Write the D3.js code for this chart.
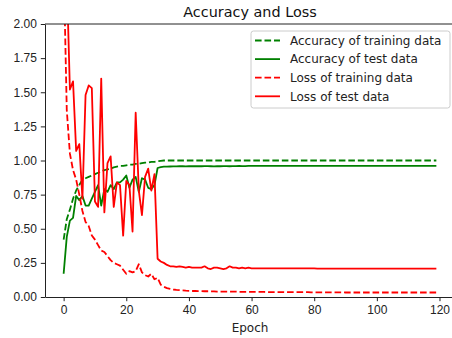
<!DOCTYPE html>
<html>
<head>
<meta charset="utf-8">
<script src="https://cdn.jsdelivr.net/npm/d3@7"></script>
<style>
    body { margin: 0; background: white; }
    svg { font-family: "DejaVu Sans", sans-serif; }
</style>
</head>
<body>
<svg id="chart"></svg>
<script>
// epoch 0 ~ 119
const epochs = d3.range(120);

const accTrain = [
    0.42, 0.57, 0.64, 0.72, 0.78, 0.82, 0.86, 0.87, 0.88, 0.89,
    0.90, 0.91, 0.92, 0.93, 0.935, 0.94, 0.95, 0.955, 0.96, 0.96,
    0.965, 0.97, 0.97, 0.975, 0.975, 0.98, 0.985, 0.985, 0.99, 0.99,
    0.995, 0.998, 1.0, 1.0, 1.0, 1.0, 1.0, 1.0, 1.0, 1.0,
    1.0, 1.0, 1.0, 1.0, 1.0, 1.0, 1.0, 1.0, 1.0, 1.0,
    1.0, 1.0, 1.0, 1.0, 1.0, 1.0, 1.0, 1.0, 1.0, 1.0,
    1.0, 1.0, 1.0, 1.0, 1.0, 1.0, 1.0, 1.0, 1.0, 1.0,
    1.0, 1.0, 1.0, 1.0, 1.0, 1.0, 1.0, 1.0, 1.0, 1.0,
    1.0, 1.0, 1.0, 1.0, 1.0, 1.0, 1.0, 1.0, 1.0, 1.0,
    1.0, 1.0, 1.0, 1.0, 1.0, 1.0, 1.0, 1.0, 1.0, 1.0,
    1.0, 1.0, 1.0, 1.0, 1.0, 1.0, 1.0, 1.0, 1.0, 1.0,
    1.0, 1.0, 1.0, 1.0, 1.0, 1.0, 1.0, 1.0, 1.0, 1.0
];

const accTest = [
    0.17, 0.44, 0.56, 0.58, 0.74, 0.71, 0.74, 0.67, 0.67, 0.72,
    0.77, 0.82, 0.67, 0.79, 0.77, 0.82, 0.79, 0.84, 0.84, 0.86,
    0.89, 0.80, 0.86, 0.88, 0.77, 0.87, 0.86, 0.80, 0.79, 0.82,
    0.945, 0.952, 0.955, 0.955, 0.956, 0.957, 0.957, 0.958, 0.958, 0.957,
    0.958, 0.958, 0.959, 0.958, 0.958, 0.959, 0.959, 0.958, 0.957, 0.958,
    0.958, 0.959, 0.959, 0.958, 0.959, 0.959, 0.96, 0.959, 0.959, 0.96,
    0.96, 0.96, 0.96, 0.96, 0.96, 0.96, 0.96, 0.96, 0.96, 0.96,
    0.96, 0.96, 0.96, 0.96, 0.96, 0.96, 0.96, 0.96, 0.96, 0.96,
    0.96, 0.96, 0.96, 0.96, 0.96, 0.96, 0.96, 0.96, 0.96, 0.96,
    0.96, 0.96, 0.96, 0.96, 0.96, 0.96, 0.96, 0.96, 0.96, 0.96,
    0.96, 0.96, 0.96, 0.96, 0.96, 0.96, 0.96, 0.96, 0.96, 0.96,
    0.96, 0.96, 0.96, 0.96, 0.96, 0.96, 0.96, 0.96, 0.96, 0.96
];

const lossTrain = [
    2.45, 1.37, 1.05, 0.93, 0.86, 0.75, 0.63, 0.55, 0.52, 0.45,
    0.42, 0.38, 0.34, 0.33, 0.30, 0.27, 0.25, 0.24, 0.23, 0.20,
    0.17, 0.19, 0.18, 0.19, 0.24, 0.18, 0.16, 0.15, 0.17, 0.13,
    0.14, 0.09, 0.075, 0.065, 0.06, 0.055, 0.052, 0.05, 0.048, 0.046,
    0.045, 0.044, 0.044, 0.043, 0.043, 0.042, 0.042, 0.041, 0.041, 0.040,
    0.040, 0.040, 0.039, 0.039, 0.039, 0.039, 0.038, 0.038, 0.038, 0.038,
    0.037, 0.037, 0.037, 0.037, 0.037, 0.036, 0.036, 0.036, 0.036, 0.036,
    0.036, 0.035, 0.035, 0.035, 0.035, 0.035, 0.035, 0.035, 0.035, 0.034,
    0.034, 0.034, 0.034, 0.034, 0.034, 0.034, 0.034, 0.034, 0.034, 0.034,
    0.033, 0.033, 0.033, 0.033, 0.033, 0.033, 0.033, 0.033, 0.033, 0.033,
    0.033, 0.033, 0.033, 0.033, 0.033, 0.033, 0.033, 0.033, 0.033, 0.033,
    0.033, 0.033, 0.033, 0.033, 0.033, 0.033, 0.033, 0.033, 0.033, 0.033
];

const lossTest = [
    4.0, 2.35, 1.52, 1.58, 1.07, 1.12, 0.72, 1.48, 1.55, 1.53,
    0.70, 0.66, 1.60, 0.62, 0.98, 1.03, 0.66, 0.84, 0.82, 0.45,
    0.85, 0.82, 0.48, 1.35, 0.78, 0.60, 0.88, 0.94, 0.78, 0.90,
    0.28, 0.26, 0.25, 0.235, 0.225, 0.225, 0.22, 0.225, 0.22, 0.215,
    0.22, 0.215, 0.215, 0.215, 0.215, 0.225, 0.21, 0.205, 0.215, 0.215,
    0.21, 0.205, 0.21, 0.225, 0.215, 0.215, 0.21, 0.215, 0.21, 0.215,
    0.21, 0.21, 0.21, 0.21, 0.21, 0.21, 0.21, 0.21, 0.21, 0.21,
    0.21, 0.21, 0.21, 0.21, 0.21, 0.21, 0.21, 0.21, 0.21, 0.21,
    0.21, 0.208, 0.208, 0.208, 0.208, 0.208, 0.208, 0.208, 0.208, 0.208,
    0.208, 0.208, 0.208, 0.208, 0.208, 0.208, 0.208, 0.208, 0.208, 0.208,
    0.208, 0.208, 0.208, 0.208, 0.208, 0.208, 0.208, 0.208, 0.208, 0.208,
    0.208, 0.208, 0.208, 0.208, 0.208, 0.208, 0.208, 0.208, 0.208, 0.208
];

const xTicks = [0, 20, 40, 60, 80, 100, 120];
const yTicks = [0, 0.25, 0.5, 0.75, 1.0, 1.25, 1.5, 1.75, 2.0];

const seriesNames = ["Accuracy of training data", "Accuracy of test data", "Loss of training data", "Loss of test data"];
const seriesValues = [accTrain, accTest, lossTrain, lossTest];
const seriesColors = ["green", "green", "red", "red"];
const seriesDashed = [true, false, true, false];

class LossChart {
    constructor(svgId) {
        this.width = 452;
        this.height = 338;
        // 축 영역 (오른쪽은 그림 밖으로 잘림)
        this.margin = {left: 45, top: 24, right: 455, bottom: 297};
        this.svg = d3.select(svgId)
            .attr("width", this.width)
            .attr("height", this.height);
    }

    init() {
        // matplotlib 기본 5% 여백
        const pad = (epochs.length - 1) * 0.05;
        this.xScale = d3.scaleLinear()
            .domain([-pad, epochs.length - 1 + pad])
            .range([this.margin.left, this.margin.right]);
        this.yScale = d3.scaleLinear()
            .domain([0, 2])
            .range([this.margin.bottom, this.margin.top]);

        this.svg.append("clipPath").attr("id", "plot-clip")
            .append("rect")
            .attr("x", this.margin.left)
            .attr("y", this.margin.top)
            .attr("width", this.margin.right - this.margin.left)
            .attr("height", this.margin.bottom - this.margin.top);

        this._drawLines();
        this._drawAxis();
        this._drawLegend();
    }

    _drawLines() {
        const line = d3.line()
            .x((d, i) => this.xScale(epochs[i]))
            .y(d => this.yScale(d));
        this.svg.append("g")
            .attr("clip-path", "url(#plot-clip)")
            .selectAll("path.series")
            .data(seriesValues)
            .join("path")
            .attr("class", "series")
            .attr("d", line)
            .style("fill", "none")
            .style("stroke", (d, i) => seriesColors[i])
            .style("stroke-width", 1.8)
            .style("stroke-dasharray", (d, i) => seriesDashed[i] ? "6.6,2.9" : null)
            .style("stroke-linejoin", "round");
    }

    _drawAxis() {
        const xAxis = this.svg.append("g")
            .attr("transform", `translate(0, ${this.margin.bottom})`)
            .call(d3.axisBottom(this.xScale).tickValues(xTicks).tickSize(4.2).tickPadding(4).tickSizeOuter(0));
        const yAxis = this.svg.append("g")
            .attr("transform", `translate(${this.margin.left}, 0)`)
            .call(d3.axisLeft(this.yScale).tickValues(yTicks).tickFormat(d3.format(".2f")).tickSize(4.2).tickPadding(4).tickSizeOuter(0));
        [xAxis, yAxis].forEach(ax => {
            ax.selectAll("text").style("font-size", "12px").style("fill", "#222");
            ax.selectAll("line").style("stroke", "#222").style("stroke-width", 1);
            ax.select(".domain").style("stroke", "#222").style("stroke-width", 1);
        });

        // 위쪽 테두리
        this.svg.append("line")
            .attr("x1", this.margin.left).attr("x2", this.margin.right)
            .attr("y1", this.margin.top).attr("y2", this.margin.top)
            .style("stroke", "#222").style("stroke-width", 1);

        this.svg.append("text")
            .attr("x", (this.margin.left + this.margin.right) / 2)
            .attr("y", 17)
            .attr("text-anchor", "middle")
            .style("font-size", "14.4px")
            .style("fill", "#111")
            .text("Accuracy and Loss");
        this.svg.append("text")
            .attr("x", (this.margin.left + this.margin.right) / 2)
            .attr("y", 331.5)
            .attr("text-anchor", "middle")
            .style("font-size", "12px")
            .style("fill", "#222")
            .text("Epoch");
    }

    _drawLegend() {
        const legend = this.svg.append("g").attr("transform", "translate(251, 31)");
        legend.append("rect")
            .attr("width", 199)
            .attr("height", 77)
            .attr("rx", 2.5)
            .style("fill", "white")
            .style("fill-opacity", 0.8)
            .style("stroke", "#cccccc")
            .style("stroke-width", 1);
        const item = legend.selectAll("g.item")
            .data(seriesNames)
            .join("g")
            .attr("class", "item")
            .attr("transform", (d, i) => `translate(0, ${9.5 + i * 18.6})`);
        item.append("line")
            .attr("x1", 4).attr("x2", 29)
            .style("stroke", (d, i) => seriesColors[i])
            .style("stroke-width", 1.8)
            .style("stroke-dasharray", (d, i) => seriesDashed[i] ? "6.6,2.9" : null);
        item.append("text")
            .attr("x", 39)
            .attr("y", 4.3)
            .style("font-size", "12px")
            .style("fill", "#222")
            .text(d => d);
    }
}

const chart = new LossChart("#chart");
chart.init();
</script>
</body>
</html>
